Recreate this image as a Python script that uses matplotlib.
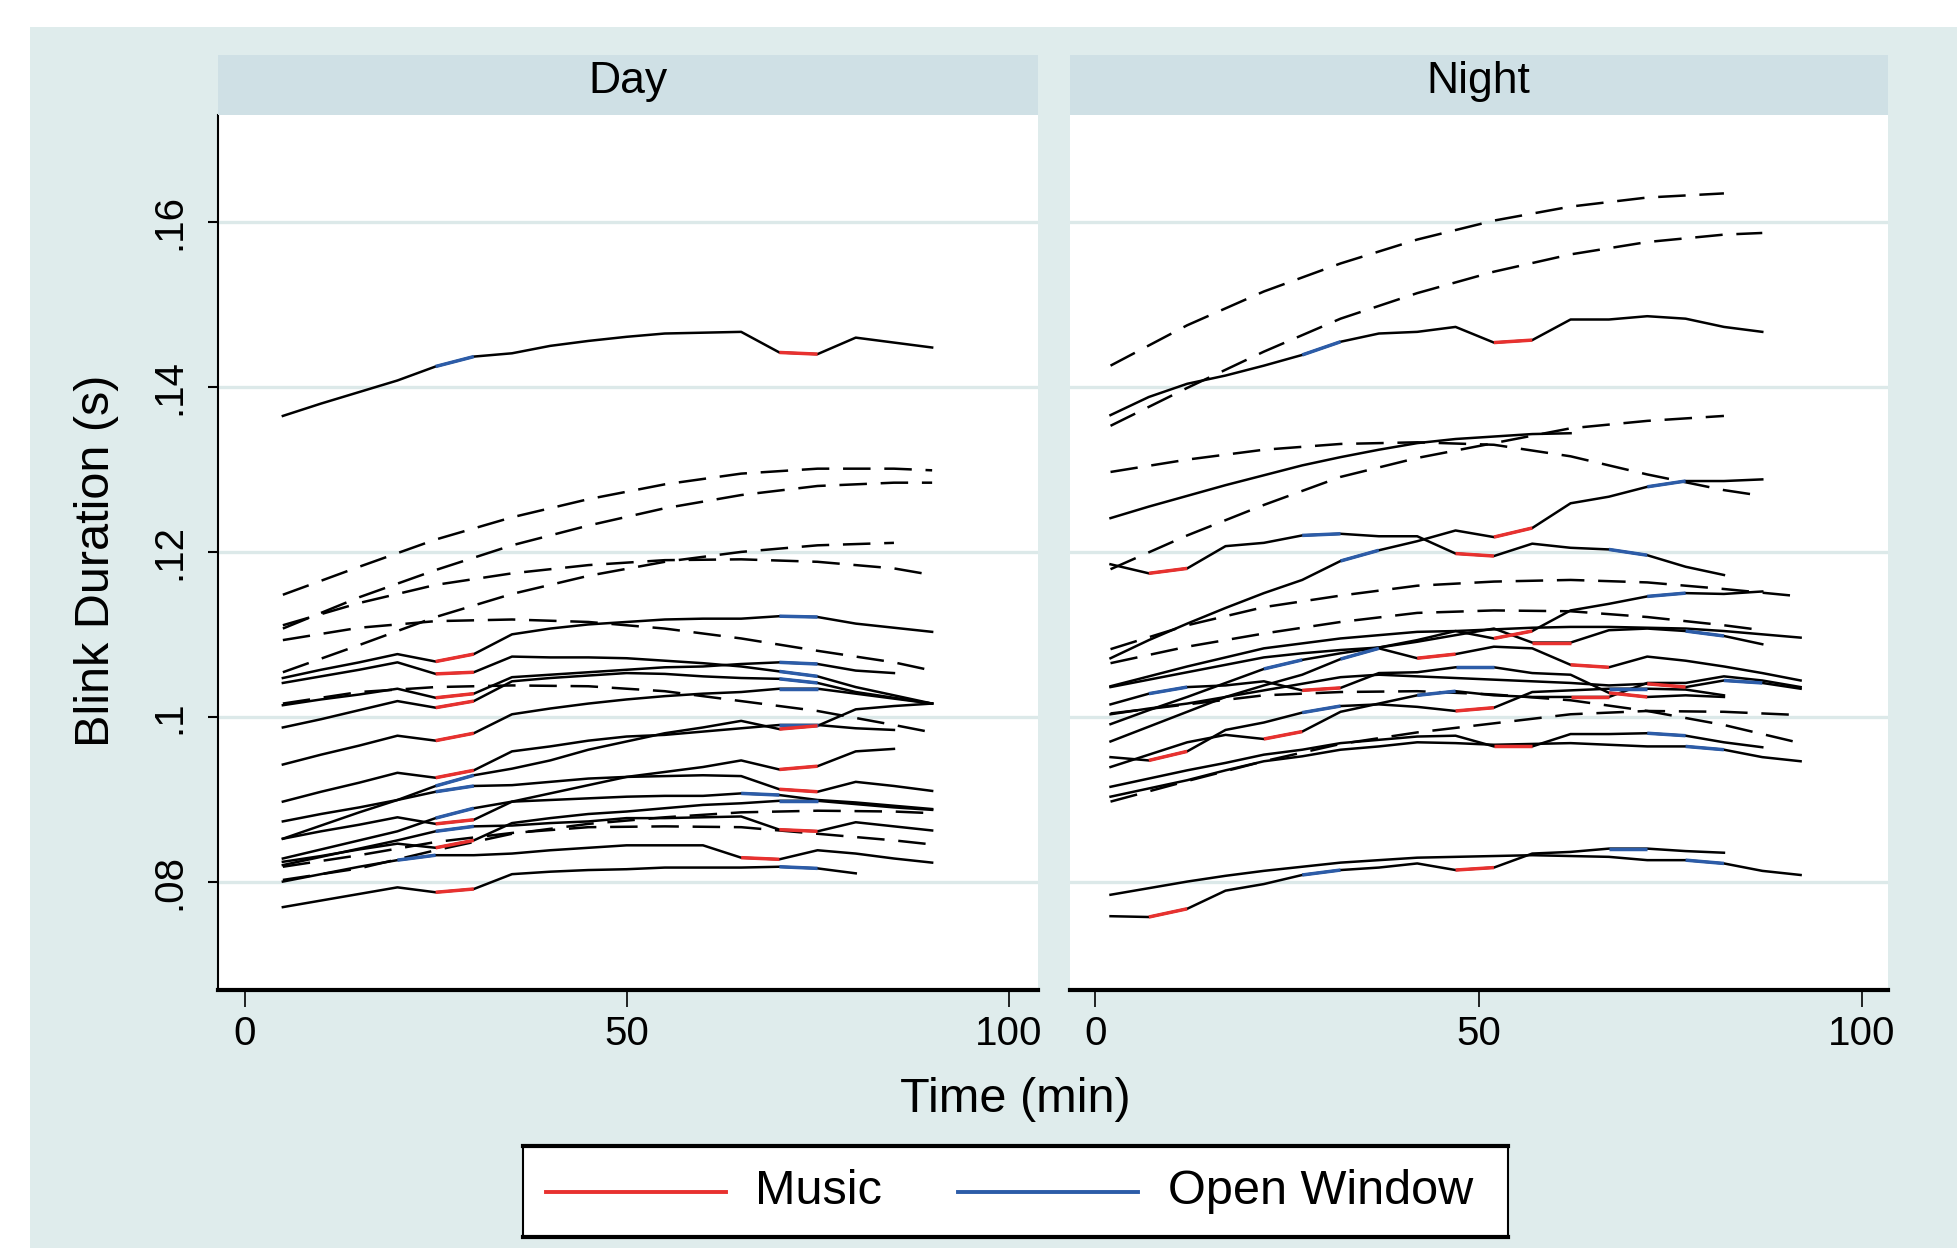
import numpy as np
import matplotlib.pyplot as plt
from matplotlib.patches import Rectangle
from matplotlib.lines import Line2D

plt.rcParams['font.family'] = ['Liberation Sans', 'DejaVu Sans']

BG = '#dfecec'
STRIP = '#cfe0e5'
GRID = '#dce9e9'
RED = '#e8312f'
BLUE = '#2c5ca8'

# ---------------- data ----------------
day_t = np.arange(5, 91, 5)      # 5 .. 90 min
night_t = np.arange(2, 93, 5)    # 2 .. 92 min

# Day: individual trajectories (Music / Open Window segment start times)
day_top = [0.1365, 0.1380, 0.1394, 0.1408, 0.1425, 0.1437, 0.1441, 0.1450, 0.1456, 0.1461, 0.1465, 0.1466, 0.1467, 0.1442, 0.1440, 0.1460, 0.1454, 0.1448]
day_s1 = [0.1047, 0.1057, 0.1066, 0.1076, 0.1067, 0.1076, 0.1100, 0.1107, 0.1112, 0.1115, 0.1118, 0.1119, 0.1119, 0.1122, 0.1121, 0.1113, 0.1108, 0.1103]
day_s2 = [0.1041, 0.1049, 0.1057, 0.1066, 0.1052, 0.1054, 0.1073, 0.1072, 0.1072, 0.1071, 0.1068, 0.1065, 0.1061, 0.1055, 0.1049, 0.1036, 0.1026, 0.1016]
day_s3 = [0.1014, 0.1021, 0.1027, 0.1034, 0.1023, 0.1028, 0.1048, 0.1051, 0.1054, 0.1057, 0.1060, 0.1061, 0.1064, 0.1066, 0.1064, 0.1056, 0.1053]
day_s4 = [0.0987, 0.0997, 0.1008, 0.1019, 0.1011, 0.1019, 0.1043, 0.1047, 0.1050, 0.1053, 0.1052, 0.1049, 0.1047, 0.1046, 0.1041, 0.1030, 0.1023, 0.1016]
day_s5 = [0.0942, 0.0954, 0.0965, 0.0977, 0.0971, 0.0980, 0.1003, 0.1010, 0.1016, 0.1021, 0.1025, 0.1028, 0.1030, 0.1034, 0.1034, 0.1028, 0.1022, 0.1016]
day_s6 = [0.0897, 0.0909, 0.0920, 0.0932, 0.0926, 0.0935, 0.0958, 0.0964, 0.0971, 0.0976, 0.0978, 0.0982, 0.0986, 0.0990, 0.0990, 0.0986, 0.0984]
day_s7 = [0.0852, 0.0868, 0.0884, 0.0899, 0.0916, 0.0929, 0.0937, 0.0947, 0.0960, 0.0970, 0.0980, 0.0987, 0.0995, 0.0985, 0.0989, 0.1009, 0.1013, 0.1016]
day_s8 = [0.0873, 0.0882, 0.0890, 0.0899, 0.0909, 0.0916, 0.0917, 0.0921, 0.0925, 0.0927, 0.0933, 0.0939, 0.0947, 0.0936, 0.0940, 0.0958, 0.0961]
day_s9 = [0.0828, 0.0839, 0.0850, 0.0861, 0.0877, 0.0889, 0.0897, 0.0907, 0.0917, 0.0927, 0.0928, 0.0929, 0.0928, 0.0912, 0.0909, 0.0921, 0.0916, 0.0910]
day_s10 = [0.0852, 0.0861, 0.0869, 0.0878, 0.0870, 0.0875, 0.0897, 0.0899, 0.0901, 0.0903, 0.0904, 0.0904, 0.0907, 0.0905, 0.0899, 0.0896, 0.0892, 0.0888]
day_s11 = [0.0824, 0.0831, 0.0839, 0.0846, 0.0841, 0.0850, 0.0871, 0.0877, 0.0882, 0.0885, 0.0889, 0.0893, 0.0895, 0.0898, 0.0898, 0.0894, 0.0890, 0.0887]
day_s12 = [0.0820, 0.0830, 0.0840, 0.0850, 0.0861, 0.0867, 0.0868, 0.0871, 0.0873, 0.0877, 0.0877, 0.0878, 0.0879, 0.0863, 0.0861, 0.0872, 0.0867, 0.0862]
day_s13 = [0.0800, 0.0809, 0.0818, 0.0826, 0.0832, 0.0832, 0.0834, 0.0838, 0.0841, 0.0844, 0.0844, 0.0844, 0.0829, 0.0827, 0.0838, 0.0834, 0.0828, 0.0823]
day_s14 = [0.0769, 0.0777, 0.0785, 0.0793, 0.0787, 0.0791, 0.0809, 0.0812, 0.0814, 0.0815, 0.0817, 0.0817, 0.0817, 0.0818, 0.0816, 0.0810]

day_lines = [
    (day_top, [70], [25]), (day_s1, [25], [70]), (day_s2, [25], [70]),
    (day_s3, [25], [70]), (day_s4, [25], [70]), (day_s5, [25], [70]),
    (day_s6, [25], [70]), (day_s7, [70], [25]), (day_s8, [70], [25]),
    (day_s9, [70], [25]), (day_s10, [25], [65]), (day_s11, [25], [70]),
    (day_s12, [70], [25]), (day_s13, [65], [20]), (day_s14, [25], [70]),
]

# Day: fitted curves (dashed)
day_fit_t = [5, 15, 25, 35, 45, 55, 65, 75, 85, 90]
day_f1 = [0.1148, 0.1182, 0.1215, 0.1242, 0.1264, 0.1282, 0.1295, 0.1301, 0.1301, 0.1299]
day_f2 = [0.1107, 0.1145, 0.1178, 0.1208, 0.1232, 0.1253, 0.1269, 0.1280, 0.1284, 0.1284]
day_f3 = [0.1111, 0.1138, 0.1160, 0.1174, 0.1184, 0.1190, 0.1191, 0.1188, 0.1180, 0.1172]
day_f4 = [0.1054, 0.1087, 0.1121, 0.1149, 0.1171, 0.1188, 0.1200, 0.1208, 0.1211]
day_f5 = [0.1093, 0.1108, 0.1116, 0.1118, 0.1115, 0.1107, 0.1095, 0.1080, 0.1066, 0.1056]
day_f6 = [0.1016, 0.1030, 0.1036, 0.1038, 0.1037, 0.1031, 0.1019, 0.1007, 0.0990, 0.0981]
day_f7 = [0.0802, 0.0816, 0.0838, 0.0858, 0.0870, 0.0878, 0.0884, 0.0886, 0.0885, 0.0883]
day_f8 = [0.0818, 0.0832, 0.0848, 0.0859, 0.0866, 0.0867, 0.0866, 0.0858, 0.0850, 0.0845]
day_fits = [day_f1, day_f2, day_f3, day_f4, day_f5, day_f6, day_f7, day_f8]

# Night: individual trajectories
night_top = [0.1366, 0.1388, 0.1404, 0.1414, 0.1426, 0.1439, 0.1455, 0.1465, 0.1467, 0.1473, 0.1454, 0.1457, 0.1482, 0.1482, 0.1486, 0.1483, 0.1473, 0.1467]
night_s2 = [0.1241, 0.1255, 0.1268, 0.1281, 0.1293, 0.1305, 0.1315, 0.1324, 0.1332, 0.1337, 0.1340, 0.1343, 0.1344]
night_s3 = [0.1185, 0.1174, 0.1180, 0.1207, 0.1211, 0.1220, 0.1222, 0.1219, 0.1219, 0.1198, 0.1195, 0.1210, 0.1205, 0.1203, 0.1196, 0.1182, 0.1172]
night_s4 = [0.1071, 0.1093, 0.1113, 0.1132, 0.1150, 0.1166, 0.1189, 0.1202, 0.1213, 0.1226, 0.1218, 0.1229, 0.1259, 0.1267, 0.1279, 0.1286, 0.1286, 0.1288]
night_s5 = [0.1037, 0.1049, 0.1061, 0.1072, 0.1083, 0.1089, 0.1095, 0.1099, 0.1103, 0.1104, 0.1106, 0.1108, 0.1109, 0.1109, 0.1108, 0.1107, 0.1104, 0.1100, 0.1096]
night_s6 = [0.1036, 0.1045, 0.1054, 0.1063, 0.1072, 0.1077, 0.1081, 0.1084, 0.1093, 0.1104, 0.1095, 0.1104, 0.1129, 0.1137, 0.1146, 0.1150, 0.1149, 0.1152]
night_s7 = [0.0991, 0.1008, 0.1024, 0.1041, 0.1058, 0.1069, 0.1077, 0.1084, 0.1091, 0.1099, 0.1107, 0.1090, 0.1090, 0.1105, 0.1107, 0.1104, 0.1098, 0.1088]
night_s8 = [0.0970, 0.0988, 0.1006, 0.1024, 0.1038, 0.1051, 0.1070, 0.1083, 0.1071, 0.1076, 0.1085, 0.1083, 0.1063, 0.1060, 0.1073, 0.1068, 0.1061, 0.1053, 0.1044]
night_s9 = [0.1015, 0.1028, 0.1036, 0.1038, 0.1043, 0.1032, 0.1035, 0.1053, 0.1054, 0.1060, 0.1060, 0.1053, 0.1051, 0.1029, 0.1024, 0.1026, 0.1024]
night_s10 = [0.0951, 0.0947, 0.0958, 0.0984, 0.0993, 0.1005, 0.1013, 0.1015, 0.1012, 0.1007, 0.1011, 0.1030, 0.1032, 0.1034, 0.1034, 0.1033, 0.1026]
night_s11 = [0.0939, 0.0954, 0.0969, 0.0978, 0.0973, 0.0982, 0.1006, 0.1016, 0.1026, 0.1031, 0.1026, 0.1024, 0.1024, 0.1024, 0.1041, 0.1041, 0.1049, 0.1044, 0.1036]
night_s12 = [0.1003, 0.1010, 0.1016, 0.1024, 0.1032, 0.1040, 0.1048, 0.1051, 0.1049, 0.1047, 0.1045, 0.1043, 0.1041, 0.1038, 0.1040, 0.1036, 0.1044, 0.1041, 0.1034]
night_s13 = [0.0915, 0.0925, 0.0935, 0.0944, 0.0954, 0.0960, 0.0968, 0.0972, 0.0976, 0.0977, 0.0964, 0.0964, 0.0979, 0.0979, 0.0980, 0.0977, 0.0969, 0.0963]
night_s14 = [0.0903, 0.0913, 0.0923, 0.0935, 0.0946, 0.0952, 0.0960, 0.0964, 0.0969, 0.0968, 0.0966, 0.0967, 0.0968, 0.0966, 0.0964, 0.0964, 0.0960, 0.0951, 0.0946]
night_s15 = [0.0784, 0.0792, 0.0800, 0.0807, 0.0813, 0.0818, 0.0823, 0.0826, 0.0829, 0.0830, 0.0831, 0.0832, 0.0831, 0.0830, 0.0826, 0.0826, 0.0822, 0.0813, 0.0808]
night_s16 = [0.0758, 0.0757, 0.0767, 0.0789, 0.0797, 0.0808, 0.0814, 0.0817, 0.0822, 0.0814, 0.0817, 0.0834, 0.0836, 0.0840, 0.0840, 0.0837, 0.0835]

night_lines = [
    (night_top, [52], [27]), (night_s2, [], []), (night_s3, [7, 47], [27, 67]),
    (night_s4, [52], [32, 72]), (night_s5, [], []), (night_s6, [52], [72]),
    (night_s7, [57], [22, 77]), (night_s8, [42, 62], [32]), (night_s9, [27, 67], [7, 47]),
    (night_s10, [7, 47], [27, 67]), (night_s11, [22, 62], [42]), (night_s12, [72], [82]),
    (night_s13, [52], [72]), (night_s14, [], [77]), (night_s15, [], [77]),
    (night_s16, [7, 47], [27, 67]),
]

# Night: fitted curves (dashed)
night_fit_t82 = [2, 12, 22, 32, 42, 52, 62, 72, 82]
night_fit_t87 = [2, 12, 22, 32, 42, 52, 62, 72, 82, 87]
night_fit_t92 = [2, 12, 22, 32, 42, 52, 62, 72, 82, 92]
night_f1 = [0.1426, 0.1475, 0.1516, 0.1550, 0.1579, 0.1602, 0.1619, 0.1630, 0.1635]
night_f2 = [0.1353, 0.1399, 0.1443, 0.1483, 0.1514, 0.1540, 0.1561, 0.1576, 0.1585, 0.1587]
night_f3 = [0.1297, 0.1312, 0.1324, 0.1331, 0.1333, 0.1330, 0.1316, 0.1294, 0.1275, 0.1268]
night_f4 = [0.1179, 0.1220, 0.1257, 0.1291, 0.1314, 0.1332, 0.1350, 0.1359, 0.1365]
night_f5 = [0.1082, 0.1111, 0.1133, 0.1147, 0.1159, 0.1164, 0.1166, 0.1163, 0.1155, 0.1146]
night_f6 = [0.1065, 0.1085, 0.1101, 0.1115, 0.1126, 0.1129, 0.1128, 0.1121, 0.1111, 0.1105]
night_f7 = [0.1004, 0.1015, 0.1026, 0.1030, 0.1031, 0.1027, 0.1020, 0.1007, 0.0990, 0.0968]
night_f8 = [0.0897, 0.0922, 0.0946, 0.0967, 0.0981, 0.0992, 0.1003, 0.1007, 0.1006, 0.1002]
night_fits = [(night_fit_t82, night_f1), (night_fit_t87, night_f2), (night_fit_t87, night_f3),
              (night_fit_t82, night_f4), (night_fit_t92, night_f5), (night_fit_t87, night_f6),
              (night_fit_t92, night_f7), (night_fit_t92, night_f8)]

yticks = [0.08, 0.10, 0.12, 0.14, 0.16]
ytick_labels = ['.08', '.1', '.12', '.14', '.16']
xticks = [0, 50, 100]


# ---------------- drawing ----------------
def trace(ax, t, v, music, window):
    t = list(t[:len(v)])
    ax.plot(t, v, color='black', lw=1.8, zorder=3)
    for starts, col in ((music, RED), (window, BLUE)):
        for s in starts:
            i = t.index(s)
            ax.plot(t[i:i + 2], v[i:i + 2], color=col, lw=2.5, zorder=4,
                    solid_capstyle='butt')


def fit(ax, t, v):
    ax.plot(t, v, color='black', lw=1.8, linestyle=(0, (11, 5.5)), zorder=3)


fig = plt.figure(figsize=(19.58, 12.48), dpi=100)
fig.patch.set_facecolor('white')
fig.add_artist(Rectangle((0.0153, 0), 0.9847, 0.978, transform=fig.transFigure,
                         facecolor=BG, edgecolor='none', zorder=-10))

bottom, height = 0.2067, 0.7012
panels = [('Day', 0.1113, 0.4186, (-3.5, 103.8)),
          ('Night', 0.5463, 0.4178, (-3.33, 103.36))]

for name, left, width, xl in panels:
    ax = fig.add_axes([left, bottom, width, height])
    ax.set_facecolor('white')
    ax.set_xlim(*xl)
    ax.set_ylim(0.06684, 0.17302)
    ax.set_yticks(yticks)
    ax.set_xticks(xticks)
    ax.set_xticklabels([str(x) for x in xticks])
    ax.grid(axis='y', color=GRID, lw=2.4)
    ax.set_axisbelow(True)
    for s in ('top', 'right'):
        ax.spines[s].set_visible(False)
    ax.spines['bottom'].set_linewidth(3)
    ax.tick_params(axis='x', length=12, width=1.2, pad=6, labelsize=29)
    if name == 'Day':
        ax.spines['left'].set_linewidth(1.5)
        ax.set_yticklabels(ytick_labels)
        ax.tick_params(axis='y', length=7, width=1.5, pad=14, labelsize=29)
        plt.setp(ax.get_yticklabels(), rotation=90, va='center', ha='right')
        for v, music, window in day_lines:
            trace(ax, day_t, v, music, window)
        for v in day_fits:
            fit(ax, day_fit_t[:len(v)], v)
    else:
        ax.spines['left'].set_visible(False)
        ax.tick_params(axis='y', length=0, labelleft=False)
        for v, music, window in night_lines:
            trace(ax, night_t, v, music, window)
        for t, v in night_fits:
            fit(ax, t, v)

    strip = fig.add_axes([left, 0.9079, width, 0.048])
    strip.set_facecolor(STRIP)
    strip.set_xticks([])
    strip.set_yticks([])
    for s in strip.spines.values():
        s.set_visible(False)
    strip.text(0.5, 0.56, name, ha='center', va='center', fontsize=32,
               transform=strip.transAxes)

fig.text(0.0495, 0.5505, 'Blink Duration (s)', rotation=90, ha='center',
         va='center', fontsize=35)
fig.text(0.5185, 0.1186, 'Time (min)', ha='center', va='center', fontsize=35)

# legend box
leg = fig.add_axes([0.2671, 0.0088, 0.5031, 0.0729])
leg.set_xlim(0, 1)
leg.set_ylim(0, 1)
leg.set_facecolor('white')
leg.set_xticks([])
leg.set_yticks([])
for s in ('top', 'bottom'):
    leg.spines[s].set_linewidth(3)
for s in ('left', 'right'):
    leg.spines[s].set_linewidth(1.5)
leg.add_line(Line2D([0.023, 0.2056], [0.5, 0.5], color=RED, lw=2.8))
leg.add_line(Line2D([0.4414, 0.6240], [0.5, 0.5], color=BLUE, lw=2.8))
leg.text(0.236, 0.5, 'Music', ha='left', va='center', fontsize=35)
leg.text(0.6543, 0.5, 'Open Window', ha='left', va='center', fontsize=35)

fig.savefig('out.png', dpi=100, facecolor=fig.get_facecolor())
